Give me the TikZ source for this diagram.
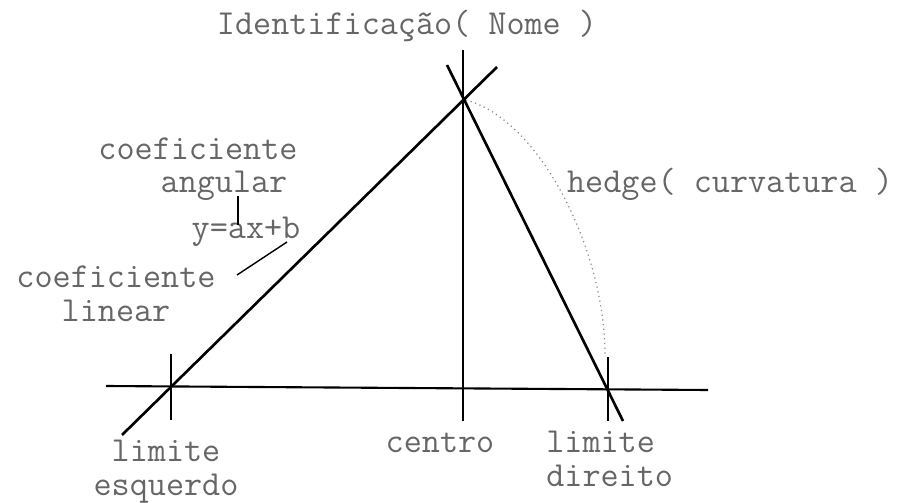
\documentclass[tikz,border=0pt]{standalone}
\usepackage{fontspec}
\begin{document}
\begin{tikzpicture}[x=0.02cm, y=-0.02cm,
  lbl/.style={font=\ttfamily\fontsize{20}{19}\selectfont, text=black!60, inner sep=0pt, anchor=base},
  baseln/.style={line width=1.2pt},
  sideln/.style={line width=1.5pt},
  tickln/.style={line width=0.8pt},
  hedgeln/.style={dotted, line width=0.7pt, black!45}]
  \useasboundingbox (0,0) rectangle (903,503);
  % pontos do triangulo
  \coordinate (apex) at (463,98);
  \coordinate (limL) at (171,387);
  \coordinate (limR) at (608,389);
  \coordinate (baseA) at (106,386);
  \coordinate (baseB) at (708,390);
  \coordinate (sideLa) at (122,435);
  \coordinate (sideLb) at (497,67);
  \coordinate (sideRa) at (447,65);
  \coordinate (sideRb) at (623,421);
  \coordinate (hedgeEnd) at (605,355);
  % linhas
  \draw[baseln] (baseA) -- (baseB);
  \draw[sideln] (sideLa) -- (sideLb);
  \draw[sideln] (sideRa) -- (sideRb);
  \draw[tickln] (463,50) -- (463,421);
  \draw[tickln] (171,354) -- (171,420);
  \draw[tickln] (608,357) -- (608,421);
  \draw[hedgeln] (466,100) .. controls (540,120) and (605,250) .. (hedgeEnd);
  % textos
  \node[lbl] (nome) at (407,35) {Identificação( Nome )};
  \node[lbl] (angA) at (198,160) {coeficiente};
  \node[lbl] (angB) at (224,193) {angular};
  \node[lbl] (eq) at (246,239) {y=ax+b};
  \node[lbl, align=center] (lin) at (116,321) {coeficiente\\linear};
  \node[lbl] (hedge) at (730,193) {hedge( curvatura )};
  \node[lbl, align=center] (esq) at (166,495) {limite\\esquerdo};
  \node[lbl] (centro) at (440,452) {centro};
  \node[lbl, anchor=base west, align=left] (dir) at (546,486) {limite\\direito};
  % ligacoes dos coeficientes
  \coordinate (angTick) at (238,196);
  \coordinate (eqTick) at (238,225);
  \draw[tickln] (angTick) -- (eqTick);
  \coordinate (linTick) at (237,275);
  \coordinate (eqEnd) at (287,242);
  \draw[tickln] (linTick) -- (eqEnd);
\end{tikzpicture}
\end{document}
